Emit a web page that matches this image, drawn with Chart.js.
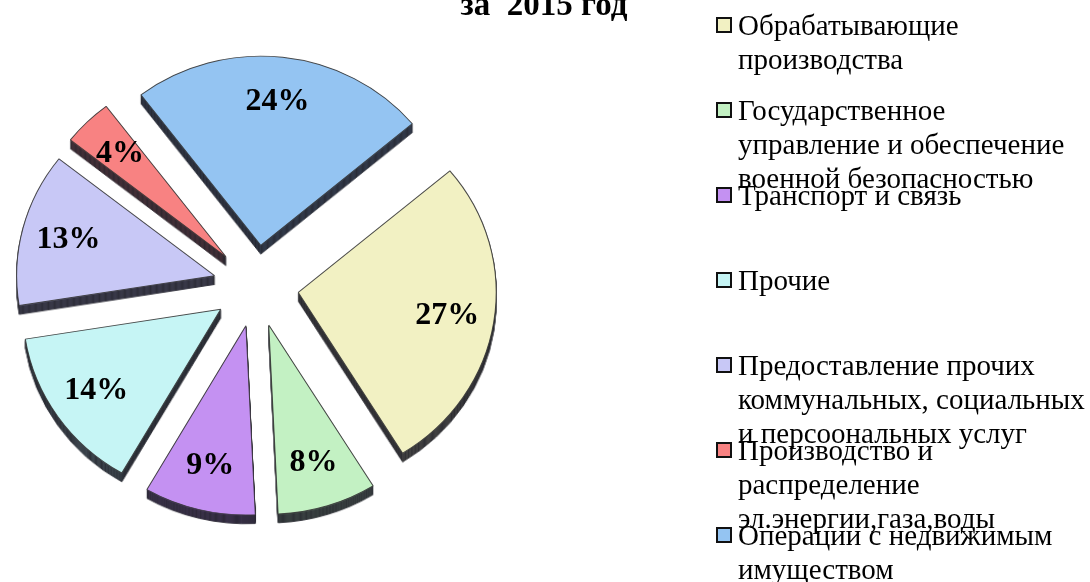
<!DOCTYPE html>
<html>
<head>
<meta charset="utf-8">
<script src="https://cdn.jsdelivr.net/npm/chart.js@4.4.1/dist/chart.umd.min.js"></script>
<style>
  html, body { margin: 0; padding: 0; background: #fff; overflow: hidden; }
  #wrap { position: relative; width: 1090px; height: 582px; }
</style>
</head>
<body>
<div id="wrap"><canvas id="pieCanvas" width="1090" height="582"></canvas></div>
<script>
// ------------------ DATA ------------------
const categories = [
  ["Обрабатывающие", "производства"],
  ["Государственное", "управление и обеспечение", "военной безопасностью"],
  ["Транспорт и связь"],
  ["Прочие"],
  ["Предоставление прочих", "коммунальных, социальных", "и персоональных услуг"],
  ["Производство и", "распределение", "эл.энергии,газа,воды"],
  ["Операции с недвижимым", "имуществом"]
];
const shares = [27, 8, 9, 14, 13, 4, 24];
const sliceColors = ["#F2F1C3", "#C3F1C3", "#C491F2", "#C6F5F5", "#C8C8F6", "#F88282", "#94C4F2"];
const titleText = "за  2015 год";

const EXPLODE = 42;
const DEPTH = 9;
const SX = 1.02, SY = 0.975;   // slight 3D tilt of the pie
const SERIF = '"Liberation Serif", "Times New Roman", serif';

// ------------------ PLUGINS ------------------
// pull every slice out of the centre
const explodePlugin = {
  id: "explode",
  afterDatasetsUpdate(chart) {
    chart.getDatasetMeta(0).data.forEach(a => {
      const mid = (a.startAngle + a.endAngle) / 2;
      a.cx0 = a.x;
      a.cy0 = a.y;
      a.x += Math.cos(mid) * EXPLODE;
      a.y += Math.sin(mid) * EXPLODE;
    });
  }
};

// squash the disc a little, as the tilted 3D pie does
const tiltPlugin = {
  id: "tilt",
  beforeDatasetsDraw(chart) {
    const a = chart.getDatasetMeta(0).data[0];
    const ctx = chart.ctx;
    ctx.save();
    ctx.translate(a.cx0, a.cy0);
    ctx.scale(SX, SY);
    ctx.translate(-a.cx0, -a.cy0);
  },
  afterDatasetsDraw(chart) {
    chart.ctx.restore();
  }
};

// extruded side of every slice: arcs drawn shifted down, then darkened
const depthPlugin = {
  id: "depth",
  beforeDatasetsDraw(chart) {
    const arcs = chart.getDatasetMeta(0).data;
    const off = document.createElement("canvas");
    off.width = chart.canvas.width;
    off.height = chart.canvas.height;
    const octx = off.getContext("2d");
    for (let d = DEPTH; d >= 1; d--) {
      octx.save();
      octx.translate(0, d);
      arcs.forEach(a => a.draw(octx));
      octx.restore();
    }
    octx.globalCompositeOperation = "source-atop";
    octx.fillStyle = "rgba(20,20,35,0.55)";
    octx.fillRect(0, 0, off.width, off.height);
    chart.ctx.drawImage(off, 0, 0);
  }
};

// percent labels on the slices
const labelPlugin = {
  id: "pctLabels",
  afterDatasetsDraw(chart) {
    const ctx = chart.ctx;
    const arcs = chart.getDatasetMeta(0).data;
    ctx.save();
    ctx.font = "bold 32px " + SERIF;
    ctx.fillStyle = "#000";
    ctx.textAlign = "center";
    ctx.textBaseline = "middle";
    arcs.forEach((a, i) => {
      const mid = (a.startAngle + a.endAngle) / 2;
      const r = 190;
      ctx.fillText(shares[i] + "%", a.cx0 + Math.cos(mid) * r * SX, a.cy0 + Math.sin(mid) * r * SY);
    });
    ctx.restore();
  }
};

// title and legend at the right
const sidePlugin = {
  id: "side",
  afterDraw(chart) {
    const ctx = chart.ctx;
    ctx.save();
    ctx.fillStyle = "#000";
    ctx.font = "bold 33px " + SERIF;
    ctx.textAlign = "center";
    ctx.textBaseline = "alphabetic";
    ctx.fillText(titleText, 544, 15);

    ctx.font = "29px " + SERIF;
    ctx.textAlign = "left";
    categories.forEach((lines, i) => {
      const base = 35 + i * 85;
      ctx.fillStyle = sliceColors[i];
      ctx.fillRect(717, base - 17, 14, 14);
      ctx.strokeStyle = "#111";
      ctx.lineWidth = 2;
      ctx.strokeRect(717, base - 17, 14, 14);
      ctx.fillStyle = "#000";
      lines.forEach((t, j) => ctx.fillText(t, 738, base + j * 34));
    });
    ctx.restore();
  }
};

// ------------------ CHART ------------------
const chart = new Chart(document.getElementById("pieCanvas").getContext("2d"), {
  type: "pie",
  data: {
    labels: categories,
    datasets: [{
      data: shares,
      backgroundColor: sliceColors,
      borderColor: "rgba(50,50,50,0.85)",
      borderWidth: 1,
      rotation: 50,
      radius: 194
    }]
  },
  options: {
    responsive: false,
    animation: false,
    layout: { padding: { left: 0, right: 578, top: 0, bottom: 10 } },
    plugins: {
      legend: { display: false },
      tooltip: { enabled: false },
      title: { display: false }
    }
  },
  plugins: [explodePlugin, tiltPlugin, depthPlugin, labelPlugin, sidePlugin]
});
</script>
</body>
</html>
